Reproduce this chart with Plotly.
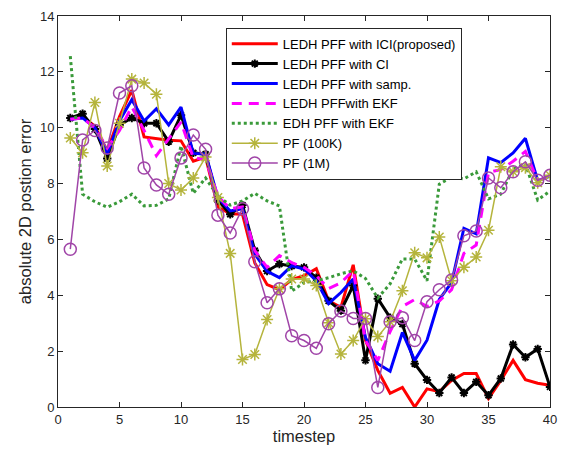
import plotly.graph_objects as go

timestep = list(range(1, 41))

ledh_ici = [10.35, 10.4, 10.05, 9.17, 10.4, 11.35, 9.67, 9.6, 9.55, 9.53, 8.8, 8.95, 7.16, 6.92, 6.9,
            5.16, 4.38, 4.2, 4.56, 4.7, 4.95, 3.8, 3.57, 5.09, 2.39, 1.31, 0.49, 0.7, 0.0, 0.65,
            0.55, 0.95, 1.2, 1.2, 0.3, 0.95, 1.67, 0.98, 0.85, 0.78]
ledh_ci = [10.35, 10.5, 9.95, 8.9, 10.1, 10.35, 10.16, 10.16, 9.5, 10.45, 9.1, 9.05, 7.4, 6.9, 7.23,
           5.6, 4.87, 5.12, 5.05, 5.0, 4.63, 3.8, 3.45, 4.35, 1.67, 3.88, 3.2, 2.97, 1.55, 0.97,
           0.5, 1.06, 0.5, 0.9, 0.42, 1.02, 2.24, 1.78, 2.08, 0.72]
ledh_samp = [10.3, 10.35, 10.0, 9.05, 10.25, 11.0, 10.24, 10.68, 10.1, 10.74, 9.08, 9.06, 7.5, 7.02, 7.1,
             5.48, 4.86, 4.63, 5.06, 4.94, 4.52, 3.7, 4.1, 4.58, 2.49, 1.55, 1.28, 2.67, 1.67, 2.39,
             3.85, 4.45, 6.4, 6.2, 8.92, 8.75, 9.1, 9.62, 8.1, 8.27]
ledh_ekf = [10.3, 10.35, 10.0, 9.27, 9.9, 10.75, 9.9, 9.0, 9.6, 10.2, 8.92, 8.87, 7.55, 7.1, 7.16,
            5.6, 5.0, 5.42, 5.17, 5.0, 4.7, 4.24, 4.45, 4.88, 2.38, 1.67, 2.7, 3.6, 3.85, 3.6,
            3.8, 4.2, 5.5, 5.8, 8.4, 8.5, 8.8, 9.15, 8.1, 8.27]
edh_ekf = [12.56, 7.62, 7.35, 7.15, 7.35, 7.62, 7.2, 7.22, 7.45, 9.35, 7.65, 8.2, 7.55, 7.23, 7.38,
           7.65, 7.38, 7.2, 4.15, 4.45, 4.52, 4.63, 4.77, 4.88, 4.6, 3.9, 4.41, 5.3, 5.3, 4.52,
           7.98, 8.23, 8.17, 8.42, 7.45, 7.62, 8.52, 8.7, 7.41, 7.73]
pf_100k = [9.63, 9.1, 10.9, 8.63, 10.16, 11.74, 11.6, 11.2, 8.0, 7.77, 8.2, 8.95, 7.5, 5.5, 1.7,
           1.88, 3.13, 4.23, 4.58, 4.58, 4.35, 3.02, 1.9, 2.38, 3.16, 2.52, 3.05, 4.16, 5.52, 5.34,
           6.09, 4.52, 5.0, 5.37, 6.33, 8.6, 8.42, 8.57, 8.03, 8.3]
pf_1m = [5.65, 9.56, 9.9, 9.27, 11.24, 11.5, 8.56, 7.95, 7.62, 8.92, 9.74, 9.23, 6.87, 6.23, 7.1,
         5.2, 3.73, 4.23, 2.55, 2.38, 2.1, 2.98, 3.44, 3.17, 3.17, 0.7, 3.05, 3.2, 2.38, 3.77,
         4.2, 4.55, 6.13, 6.3, 8.2, 7.85, 8.42, 8.78, 8.12, 8.3]

names = ["LEDH PFF with ICI(proposed)", "LEDH PFF with CI", "LEDH PFF with samp.",
         "LEDH PFFwith EKF", "EDH PFF with EKF", "PF (100K)", "PF (1M)"]

x_ticks = [0, 5, 10, 15, 20, 25, 30, 35, 40]
y_ticks = [0, 2, 4, 6, 8, 10, 12, 14]

FONT = "Liberation Sans, Arial, sans-serif"

fig = go.Figure()
fig.add_trace(go.Scatter(x=timestep, y=ledh_ici, name=names[0], mode="lines",
                         line=dict(color="#ff0000", width=3)))
fig.add_trace(go.Scatter(x=timestep, y=ledh_ci, name=names[1], mode="lines+markers",
                         line=dict(color="#000000", width=3),
                         marker=dict(symbol="asterisk-open", size=7,
                                     line=dict(color="#000000", width=2))))
fig.add_trace(go.Scatter(x=timestep, y=ledh_samp, name=names[2], mode="lines",
                         line=dict(color="#0000ff", width=3)))
fig.add_trace(go.Scatter(x=timestep, y=ledh_ekf, name=names[3], mode="lines",
                         line=dict(color="#ff00ff", width=3, dash="10px,7px")))
fig.add_trace(go.Scatter(x=timestep, y=edh_ekf, name=names[4], mode="lines",
                         line=dict(color="#3a9a3a", width=3, dash="3px,3px")))
fig.add_trace(go.Scatter(x=timestep, y=pf_100k, name=names[5], mode="lines+markers",
                         line=dict(color="#b5b43c", width=1.5),
                         marker=dict(symbol="asterisk-open", size=10,
                                     line=dict(color="#b5b43c", width=1.5))))
fig.add_trace(go.Scatter(x=timestep, y=pf_1m, name=names[6], mode="lines+markers",
                         line=dict(color="#a045a8", width=1.5),
                         marker=dict(symbol="circle-open", size=12,
                                     line=dict(color="#a045a8", width=1.5))))

axis_common = dict(showline=True, linecolor="#262626", linewidth=1, mirror="ticks",
                   ticks="inside", ticklen=5, tickcolor="#262626", showgrid=False,
                   zeroline=False, tickfont=dict(family=FONT, size=13, color="#262626"))

fig.update_layout(
    width=566, height=454,
    margin=dict(l=58, r=9, t=15, b=47),
    paper_bgcolor="white", plot_bgcolor="white",
    font=dict(family=FONT, size=13, color="#262626"),
    xaxis=dict(range=[0, 40], tickvals=x_ticks,
               title=dict(text="timestep", font=dict(family=FONT, size=16.5, color="#262626"), standoff=3),
               **axis_common),
    yaxis=dict(range=[0, 14], tickvals=y_ticks,
               title=dict(text="absolute 2D postion error", font=dict(family=FONT, size=16.5, color="#262626"), standoff=4),
               **axis_common),
    legend=dict(x=0.341, y=0.97, xanchor="left", yanchor="top",
                bgcolor="white", bordercolor="#262626", borderwidth=1,
                font=dict(family=FONT, size=13, color="#000000"),
                itemwidth=46, tracegroupgap=0),
    showlegend=True,
)

fig.write_html("out.html")
